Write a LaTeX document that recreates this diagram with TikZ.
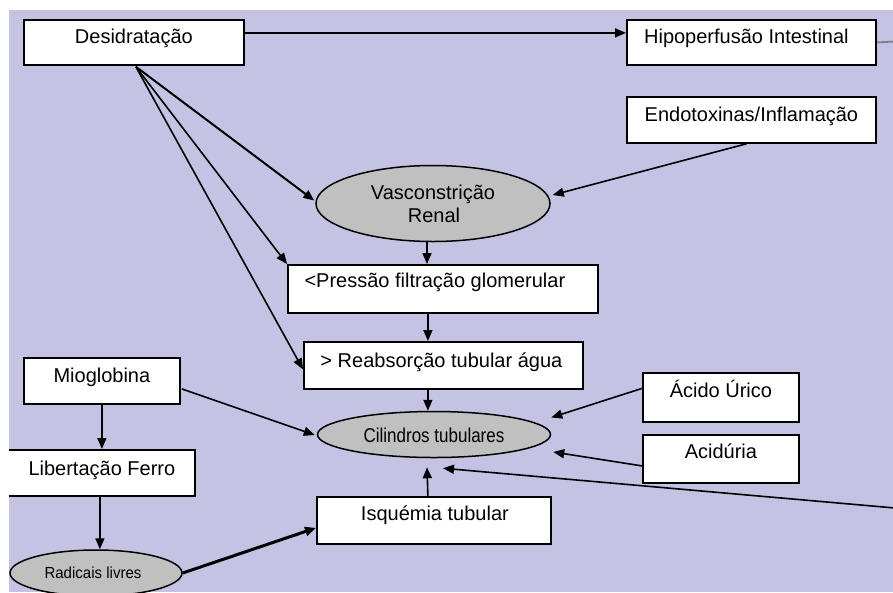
\documentclass[tikz,border=0pt]{standalone}
\usepackage{fontspec}
\setmainfont{Liberation Sans}
\usetikzlibrary{arrows.meta,calc,shapes.geometric}
\definecolor{lav}{RGB}{197,195,227}
\definecolor{ovalgray}{RGB}{192,192,192}
\begin{document}
\begin{tikzpicture}[x=1pt,y=-1pt,
  box/.style={draw=black, fill=white, line width=1.8pt, rectangle, inner sep=0pt, anchor=north west},
  oval/.style={draw=black, fill=ovalgray, line width=1.5pt, ellipse, inner sep=0pt},
  lbl/.style={font=\fontsize{20}{22}\selectfont, inner sep=0pt, anchor=base},
  arr/.style={line width=1.6pt, -{Triangle[length=11pt,width=9pt]}},
  thickarr/.style={line width=3pt, -{Triangle[length=11pt,width=9pt]}},
  plain/.style={line width=1.8pt, draw=gray},
]
\useasboundingbox (0,0) rectangle (893,592);
\clip (0,0) rectangle (893,592);
\fill[white] (0,0) rectangle (893,592);
\fill[lav] (9,10) rectangle (893,592);
\begin{scope}
\clip (9,10) rectangle (893,592);
% boxes
\node[box, minimum width=220pt, minimum height=45pt] (des) at (23,19) {};
\node[box, minimum width=249pt, minimum height=45pt] (hip) at (626,19) {};
\node[box, minimum width=249pt, minimum height=46pt] (endo) at (626,96) {};
\node[box, minimum width=310pt, minimum height=48pt] (pre) at (287,264) {};
\node[box, minimum width=279pt, minimum height=47pt] (rea) at (303,341) {};
\node[box, minimum width=156pt, minimum height=46pt] (mio) at (23,357) {};
\node[box, minimum width=190pt, minimum height=46pt] (lib) at (4,449) {};
\node[box, minimum width=234pt, minimum height=47pt] (isq) at (316,496) {};
\node[box, minimum width=156pt, minimum height=49pt] (acu) at (642,372) {};
\node[box, minimum width=156pt, minimum height=48pt] (acd) at (642,434) {};
% ellipses
\node[oval, minimum width=234pt, minimum height=76pt] (vas) at (433,203.5) {};
\node[oval, minimum width=233pt, minimum height=46pt] (cil) at (434,434.5) {};
\node[oval, minimum width=172pt, minimum height=46pt] (rad) at (96,573) {};
% labels
\node[lbl] (desT) at ($(des.north)+(0,24)$) {Desidratação};
\node[lbl] (hipT) at ($(hip.north)+(-5,24)$) {Hipoperfusão Intestinal};
\node[lbl] (endoT) at ($(endo.north)+(0,25)$) {Endotoxinas/Inflamação};
\node[lbl] (preT) at ($(pre.north)+(-8,23)$) {<Pressão filtração glomerular};
\node[lbl] (reaT) at ($(rea.north)+(-2,26)$) {> Reabsorção tubular água};
\node[lbl] (mioT) at ($(mio.north)+(0,25)$) {Mioglobina};
\node[lbl] (libT) at ($(lib.north)+(2,26)$) {Libertação Ferro};
\node[lbl] (isqT) at ($(isq.north)+(1,24)$) {Isquémia tubular};
\node[lbl] (acuT) at ($(acu.north)+(0,25)$) {Ácido Úrico};
\node[lbl] (acdT) at ($(acd.north)+(0,24)$) {Acidúria};
\node[lbl] (vasT1) at ($(vas.center)+(0,-4.5)$) {Vasconstrição};
\node[lbl] (vasT2) at ($(vas.center)+(1,18.5)$) {Renal};
\node[lbl] (cilT) at ($(cil.center)+(0,7.5)$) {\scalebox{0.85}[1]{Cilindros tubulares}};
\node[lbl, font=\fontsize{16}{18}\selectfont] (radT) at ($(rad.center)+(-3,5)$) {\scalebox{0.94}[1]{Radicais livres}};
% coordinates
\coordinate (desout) at ($(des.south)+(2,1)$);
\coordinate (hipend) at (895,41.5);
\coordinate (farR) at (895,508);
\coordinate (v1) at ($(vas.south)+(-6,0)$);
\coordinate (p1) at ($(pre.south)+(-15,0)$);
\coordinate (r1) at ($(rea.south)+(-15.5,0)$);
\coordinate (i1) at ($(isq.north)+(-6,0)$);
% connectors
\draw[arr] ($(des.east)+(0,-9.5)$) -- ($(hip.west)+(0,-9.5)$);
\draw[plain] (hip.east) -- (hipend);
\draw[arr, line width=2pt] (desout) -- ($(vas.west)+(-1,-3)$);
\draw[arr] (desout) -- (pre.north west);
\draw[arr] (desout) -- ($(rea.west)+(0,4)$);
\draw[arr] ($(endo.south)+(-5,0)$) -- ($(vas.east)+(2,-8.5)$);
\draw[arr] (v1) -- (v1 |- pre.north);
\draw[arr] (p1) -- (p1 |- rea.north);
\draw[arr] (r1) -- (r1 |- cil.north);
\draw[arr] ($(mio.east)+(1,8)$) -- ($(cil.west)+(-2,0.5)$);
\draw[arr] (mio.south) -- (mio.south |- lib.north);
\draw[arr] (lib.south) -- (lib.south |- rad.north);
\draw[thickarr] (rad.east) -- ($(isq.west)+(0,7.5)$);
\draw[arr] (i1) -- ($(cil.south)+(-7,9)$);
\draw[arr] ($(acu.west)+(0,-9)$) -- ($(cil.east)+(0,-17)$);
\draw[arr] ($(acd.west)+(0,7)$) -- ($(cil.east)+(2,17.5)$);
\draw[arr] (farR) -- ($(cil.south)+(9,10)$);
\end{scope}
\end{tikzpicture}
\end{document}
